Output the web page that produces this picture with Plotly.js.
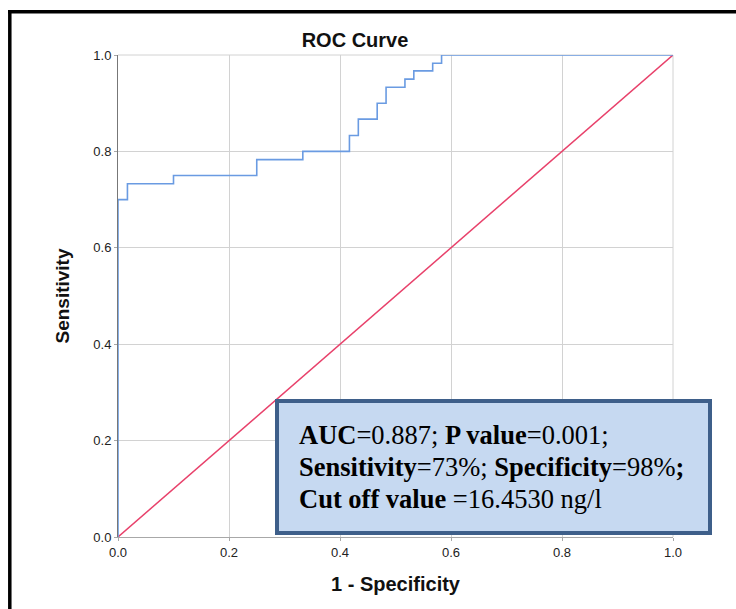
<!DOCTYPE html>
<html>
<head>
<meta charset="utf-8">
<script src="https://cdn.plot.ly/plotly-3.0.1.min.js"></script>
<style>
  html, body { margin: 0; padding: 0; background: #ffffff; }
  #chart { width: 736px; height: 609px; }
</style>
</head>
<body>
<div id="chart"></div>
<script>
// ROC curve points (1 - Specificity, Sensitivity), step shape
const rocFpr = [0, 0, 0.017, 0.1, 0.25, 0.333, 0.417, 0.433, 0.467, 0.483, 0.517, 0.533, 0.567, 0.583, 1];
const rocTpr = [0, 0.70, 0.733, 0.75, 0.783, 0.80, 0.833, 0.867, 0.90, 0.933, 0.95, 0.967, 0.983, 1.0, 1.0];
// Reference (chance) line
const refX = [0, 1];
const refY = [0, 1];
// Tick values / labels
const tickVals = [0, 0.2, 0.4, 0.6, 0.8, 1.0];
const tickText = ['0.0', '0.2', '0.4', '0.6', '0.8', '1.0'];
// Text box lines
const boxLines = [
  '<b>AUC</b>=0.887; <b>P value</b>=0.001;',
  '<b>Sensitivity</b>=73%; <b>Specificity</b>=98%<b>;</b>',
  '<b>Cut off value </b>=16.4530 ng/l'
];

// Plot-area geometry (px) for layout decorations
const L = 118, T = 55, W = 555, H = 482;
const X = px => (px - L) / W;
const Y = py => (T + H - py) / H;

const traces = [
  {
    x: refX, y: refY, type: 'scatter', mode: 'lines',
    line: { color: '#e8416b', width: 1.5 },
    hoverinfo: 'skip', showlegend: false
  },
  {
    x: rocFpr, y: rocTpr, type: 'scatter', mode: 'lines',
    line: { color: '#6a9be2', width: 1.6, shape: 'hv' },
    showlegend: false
  }
];

const annotations = boxLines.map((t, i) => ({
  text: t,
  xref: 'paper', yref: 'paper',
  x: X(297), y: Y(444.3 + i * 31.7 - 9),
  xanchor: 'left', yanchor: 'middle',
  align: 'left', showarrow: false,
  font: { family: '"Liberation Serif", "Times New Roman", serif', size: 26.5, color: '#000000' }
}));

const layout = {
  width: 736, height: 609,
  margin: { l: L, r: 736 - L - W, t: T, b: 609 - T - H, pad: 0 },
  paper_bgcolor: '#ffffff', plot_bgcolor: '#ffffff',
  font: { family: '"Liberation Sans", Arial, sans-serif', color: '#222222' },
  title: {
    text: '<b>ROC Curve</b>',
    font: { family: '"Liberation Sans", Arial, sans-serif', size: 20, color: '#111111' },
    xref: 'container', yref: 'container',
    x: 355 / 736, xanchor: 'center',
    y: 1 - 40 / 609, yanchor: 'middle'
  },
  xaxis: {
    range: [0, 1], tickvals: tickVals, ticktext: tickText,
    showgrid: true, gridcolor: '#d2d2d2', gridwidth: 1,
    zeroline: false, showline: true, linecolor: '#a8a8a8', linewidth: 1,
    ticks: 'outside', ticklen: 3, tickcolor: '#a8a8a8',
    tickfont: { size: 13, color: '#222222' },
    layer: 'below traces',
    title: {
      text: '<b>1 - Specificity</b>',
      font: { size: 20, color: '#111111' },
      standoff: 18
    }
  },
  yaxis: {
    range: [0, 1], tickvals: tickVals, ticktext: tickText,
    showgrid: true, gridcolor: '#d2d2d2', gridwidth: 1,
    zeroline: false, showline: true, linecolor: '#777777', linewidth: 1,
    ticks: 'outside', ticklen: 3, tickcolor: '#a8a8a8',
    tickfont: { size: 13, color: '#222222' },
    layer: 'below traces',
    title: {
      text: '<b>Sensitivity</b>',
      font: { size: 19, color: '#111111' },
      standoff: 18
    }
  },
  shapes: [
    // top and right grid edges
    {
      type: 'line', xref: 'paper', yref: 'paper', layer: 'below',
      x0: 0, x1: 1, y0: 1, y1: 1,
      line: { color: '#d2d2d2', width: 1 }
    },
    {
      type: 'line', xref: 'paper', yref: 'paper', layer: 'below',
      x0: 1, x1: 1, y0: 0, y1: 1,
      line: { color: '#d2d2d2', width: 1 }
    },
    // stats box
    {
      type: 'rect', xref: 'paper', yref: 'paper', layer: 'above',
      x0: X(277), x1: X(710), y0: Y(533), y1: Y(401),
      fillcolor: '#c6d9f1', line: { color: '#3e5f8a', width: 4 }
    },
    // outer frame (top and left)
    {
      type: 'line', xref: 'paper', yref: 'paper', layer: 'above',
      x0: X(8), x1: X(745), y0: Y(11.7), y1: Y(11.7),
      line: { color: '#000000', width: 3.5 }
    },
    {
      type: 'line', xref: 'paper', yref: 'paper', layer: 'above',
      x0: X(9.8), x1: X(9.8), y0: Y(10), y1: Y(620),
      line: { color: '#000000', width: 3.5 }
    }
  ],
  annotations: annotations
};

Plotly.newPlot('chart', traces, layout, { displayModeBar: false, staticPlot: true });
</script>
</body>
</html>
